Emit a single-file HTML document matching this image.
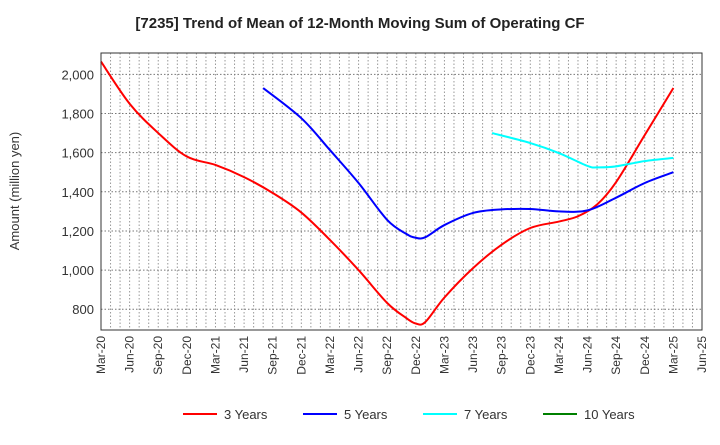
<!DOCTYPE html>
<html><head><meta charset="utf-8"><style>
body{margin:0;background:#fff;}
svg text{font-family:"Liberation Sans",sans-serif;}
</style></head><body>
<svg width="720" height="440" viewBox="0 0 720 440">
<text x="360" y="28" text-anchor="middle" font-size="15" font-weight="bold" fill="#222">[7235]  Trend of Mean of 12-Month Moving Sum of Operating CF</text>
<g id="grid"></g>
<g id="yticks"></g>
<g id="xticks"></g>
<g id="series"></g>
<rect x="101" y="53" width="601" height="277" fill="none" stroke="#333" stroke-width="1"/>
<text transform="translate(19,191) rotate(-90)" text-anchor="middle" font-size="13" fill="#333">Amount (million yen)</text>
<g id="legend"></g>
</svg>
<script>
const xLabels=["Mar-20","Jun-20","Sep-20","Dec-20","Mar-21","Jun-21","Sep-21","Dec-21","Mar-22","Jun-22","Sep-22","Dec-22","Mar-23","Jun-23","Sep-23","Dec-23","Mar-24","Jun-24","Sep-24","Dec-24","Mar-25","Jun-25"];
const yTicks=[800,1000,1200,1400,1600,1800,2000];
const seriesNames=["3 Years","5 Years","7 Years","10 Years"];
const seriesColors=["#ff0000","#0000ff","#00ffff","#008000"];
// month index from Mar-20
const months3=[0,3,6,9,12,15,18,21,24,27,30,32,33,34,36,39,42,45,48,50,52,54,57,60];
const vals3=[2065,1850,1700,1580,1537,1475,1394,1294,1154,1000,832,755,727,735,860,1010,1130,1215,1248,1275,1335,1450,1690,1930];
const months5=[17,21,24,27,30,32,33,34,36,39,42,45,48,51,54,57,60];
const vals5=[1930,1776,1613,1445,1256,1185,1165,1168,1230,1292,1310,1312,1300,1305,1370,1445,1500];
const months7=[41,45,48,51,52,54,57,60];
const vals7=[1700,1649,1598,1532,1525,1530,1557,1573];
const months10=[];
const vals10=[];
const X0=101,X1=702,Y0=53,Y1=330,NM=63,VMIN=694,VMAX=2109;
const sx=m=>X0+(X1-X0)*m/NM;
const sy=v=>Y1-(v-VMIN)/(VMAX-VMIN)*(Y1-Y0);
const NS="http://www.w3.org/2000/svg";
function mk(tag,attrs,parent){const e=document.createElementNS(NS,tag);for(const k in attrs)e.setAttribute(k,attrs[k]);parent.appendChild(e);return e;}
const grid=document.getElementById('grid');
for(let m=1;m<NM;m++){const l=mk('line',{x1:sx(m),x2:sx(m),y1:Y0,y2:Y1,stroke:'#999','stroke-dasharray':'1.5,2','stroke-width':1},grid);

}
const yt=document.getElementById('yticks');
yTicks.forEach(v=>{const l=mk('line',{x1:X0,x2:X1,y1:sy(v),y2:sy(v),stroke:'#777','stroke-dasharray':'1.5,2','stroke-width':1},grid);


const t=mk('text',{x:X0-7,y:sy(v)+5,'text-anchor':'end','font-size':13,fill:'#333'},yt);t.textContent=v.toLocaleString('en-US');

});
const xt=document.getElementById('xticks');
xLabels.forEach((s,i)=>{const x=sx(i*3);const t=mk('text',{transform:`translate(${x+4},336) rotate(-90)`,'text-anchor':'end','font-size':12,fill:'#333'},xt);t.textContent=s;

});
function pathFor(ms,vs){const p=ms.map((m,i)=>[sx(m),sy(vs[i])]);if(!p.length)return '';let d=`M${p[0][0]},${p[0][1]}`;
for(let i=0;i<p.length-1;i++){const a=p[i-1]||p[i],b=p[i],c=p[i+1],e=p[i+2]||c;
d+=`C${b[0]+(c[0]-a[0])/6},${b[1]+(c[1]-a[1])/6} ${c[0]-(e[0]-b[0])/6},${c[1]-(e[1]-b[1])/6} ${c[0]},${c[1]}`;}return d;}
const sg=document.getElementById('series');
[[months3,vals3],[months5,vals5],[months7,vals7],[months10,vals10]].forEach((s,i)=>{if(!s[0].length)return;
const p=mk('path',{d:pathFor(s[0],s[1]),fill:'none',stroke:seriesColors[i],'stroke-width':2},sg);

});
const lg=document.getElementById('legend');
const lx=[183,303,423,543];
seriesNames.forEach((n,i)=>{const g=mk('g',{},lg);


mk('line',{x1:lx[i],x2:lx[i]+34,y1:414,y2:414,stroke:seriesColors[i],'stroke-width':2},g);
const t=mk('text',{x:lx[i]+41,y:419,'font-size':13,fill:'#333'},g);t.textContent=n;});
</script>
</body></html>
